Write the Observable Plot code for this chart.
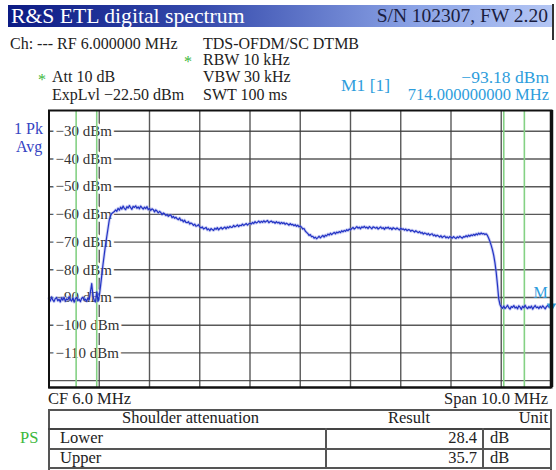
<!DOCTYPE html>
<html><head><meta charset="utf-8">
<script src="https://cdn.jsdelivr.net/npm/d3@7"></script>
<script src="https://cdn.jsdelivr.net/npm/@observablehq/plot@0.6"></script>
<style>
body{margin:0;background:#fff;}
#wrap{position:relative;width:556px;height:470px;overflow:hidden;font-family:"Liberation Serif",serif;}
.t{position:absolute;white-space:nowrap;font-size:16px;line-height:14px;color:#222;}
.b{color:#2e9ddc;font-size:17.5px;}
.g{color:#3cb83c;}
.ln{position:absolute;background:#555;}
#bar{position:absolute;left:8px;top:5px;width:545px;height:22px;background:linear-gradient(to right,#0c1b84 0%,#3449ab 35%,#8ba3e6 75%,#b4c6f4 100%);}
#edge{position:absolute;left:552px;top:4px;width:1.5px;height:36px;background:#333;}
#plot{position:absolute;left:0;top:100px;}
</style></head>
<body><div id="wrap">
<div id="bar"></div>
<div id="edge"></div>
<div id="plot"></div>
</div>
<script>
// ---- data ----
const titleText = "R&S ETL digital spectrum";
const serialText = "S/N 102307, FW 2.20";
const sweepStartMHz = 1;      // CF 6.0 MHz, span 10 MHz
const sweepStepMHz = 0.025;
const traceDbm = [
 -90.3,-91.3,-89.8,-90.9,-91.5,-90.4,-90.0,-91.2,-90.6,-91.6,-90.1,-91.0,-89.9,-91.4,-90.5,-90.9,-89.7,-90.8,-91.3,-90.2,-91.7,-90.4,-90.0,-91.1,-90.7,-91.5,-90.3,-89.9,-91.0,-90.6,-91.4,-90.1,-90.8,
 -88.0,-85.0,-89.5,-91.0,-91.6,-88.0,-91.3,-89.5,-86.0,-82.0,-78.0,-74.5,-71.0,-68.0,-65.0,-62.0,-60.5,-59.7,-59.3,-59.0,
 -58.4,-58.9,-57.8,-58.5,-57.4,-58.1,-57.0,-57.9,-58.3,-57.2,-57.7,-56.8,-57.6,-58.2,-57.1,-57.5,-56.9,-57.8,-57.3,-58.0,-57.0,-57.6,-58.1,-57.4,-57.9,-57.2,-58.3,-57.8,
 -58.6,-58.0,-58.3,-59.1,-58.4,-58.8,-59.5,-58.9,-59.3,-60.1,
 -59.5,-59.8,-60.4,-60.0,-60.7,-60.3,-60.2,-61.2,-60.7,-61.4,
 -61.0,-61.6,-61.9,-61.3,-62.2,-62.0,-62.7,-62.1,-62.9,-63.0,
 -62.6,-63.5,-63.1,-63.4,-64.0,-63.5,-64.3,-64.1,-63.7,-64.5,
 -64.9,-64.5,-65.3,-65.0,-64.7,-65.6,-65.2,-65.9,-65.1,-65.5,
 -65.8,-65.0,-65.4,-64.8,-65.6,-65.1,-64.7,-65.3,-64.9,-64.6,
 -65.2,-64.5,-64.9,-64.3,-64.7,-64.6,-64.0,-64.5,-64.2,-63.8,
 -64.4,-63.9,-64.1,-63.5,-64.0,-63.7,-63.3,-63.9,-63.4,-63.2,
 -63.5,-62.9,-63.3,-62.6,-63.1,-62.8,-62.4,-63.0,-62.5,-62.9,
 -62.3,-62.8,-62.5,-62.2,-63.0,-62.6,-62.4,-62.9,-62.7,-63.2,
 -62.6,-63.1,-62.8,-63.4,-62.9,-63.3,-63.0,-63.6,-63.2,-63.5,
 -63.9,-63.3,-63.8,-63.6,-64.1,-63.7,-64.3,-63.9,-64.5,-64.2,
 -64.6,-65.3,-65.1,-66.0,-66.5,-66.9,-67.6,-67.3,-68.1,-67.9,
 -68.6,-68.2,-68.8,-68.4,-67.9,-68.5,-68.0,-67.6,-68.2,-67.5,
 -67.8,-67.1,-67.5,-66.8,-67.3,-66.9,-66.5,-67.0,-66.4,-66.7,
 -66.2,-66.6,-65.9,-66.3,-65.8,-66.1,-65.5,-65.9,-65.3,-65.6,
 -65.1,-64.7,-65.3,-64.9,-64.4,-65.0,-64.6,-65.2,-64.5,-64.8,
 -64.3,-64.9,-64.6,-65.1,-64.4,-64.8,-65.2,-64.5,-64.7,-65.0,
 -64.6,-65.3,-64.9,-64.5,-65.1,-64.8,-65.4,-64.7,-65.0,-64.6,
 -65.2,-64.9,-65.5,-64.8,-65.1,-65.4,-64.9,-65.3,-65.6,-65.0,
 -65.4,-65.2,-65.7,-65.3,-65.9,-65.5,-65.6,-66.1,-65.7,-66.0,
 -66.4,-65.9,-66.3,-66.6,-66.2,-66.8,-66.5,-67.1,-66.7,-66.9,
 -67.3,-66.9,-67.5,-67.2,-67.0,-67.7,-67.4,-67.9,-67.5,-67.8,
 -68.2,-67.7,-68.4,-68.0,-67.8,-68.5,-68.1,-68.6,-68.0,-68.3,
 -68.6,-68.0,-68.4,-68.7,-68.1,-68.5,-67.9,-68.3,-68.6,-68.0,
 -68.2,-67.7,-68.1,-67.5,-67.9,-67.4,-67.7,-67.2,-67.6,-67.0,
 -67.4,-66.8,-67.2,-66.7,-67.1,-66.9,-67.3,-67.0,
 -67.6,-68.6,-69.8,-71.2,-72.8,-74.8,-77.5,-81.0,-85.5,-90.5,-92.6,-93.4,
 -93.9,-93.1,-94.0,-93.5,-92.8,-93.7,-94.2,-93.3,-93.6,-92.9,
 -93.8,-93.4,-94.1,-93.0,-93.5,-94.3,-93.2,-93.7,-92.8,-93.6,
 -94.0,-93.3,-93.8,-93.1,-94.2,-93.5,-92.9,-93.7,-93.4,-94.0,
 -93.2,-93.8,-93.0,-93.6,-94.1,-93.3,-92.9,-93.5,-93.0,-93.2
];
const xGridMHz = [1,2,3,4,5,6,7,8,9,10,11];
const yGridDbm = [-30,-40,-50,-60,-70,-80,-90,-100,-110,-120];
const yLabelDbm = [-30,-40,-50,-60,-70,-80,-90,-100,-110];
const shoulderLinesMHz = [1.54,1.95,10.05,10.46];
const markerMHz = [11];
const markerDbm = [-93.18];
const shoulderRows = ["Lower","Upper"];
const shoulderResults = ["28.4","35.7"];
const shoulderUnits = ["dB","dB"];

// ---- chart ----
const trace = traceDbm.map((v,i)=>({f: sweepStartMHz + i*sweepStepMHz, v}));
const marker = markerMHz.map((f,i)=>({f, v: markerDbm[i]}));
const font = "Liberation Serif";
const chart = Plot.plot({
  width: 556, height: 290,
  marginLeft: 48.5, marginRight: 5, marginTop: 10, marginBottom: 3,
  x: {domain: [1, 11], axis: null},
  y: {domain: [-122.5, -22.5], axis: null},
  style: {background: "transparent", fontFamily: font},
  marks: [
    Plot.ruleX(xGridMHz, {stroke: "#3c3c3c", strokeWidth: 1.4, strokeOpacity: 0.85}),
    Plot.ruleY(yGridDbm, {stroke: "#3c3c3c", strokeWidth: 1.4, strokeOpacity: 0.85}),
    Plot.text(yLabelDbm, {x: 1, y: d => d, text: d => "\u2212" + (-d) + " dBm", textAnchor: "start", dx: 6.5,
      fontSize: 15, fontFamily: font, fill: "#333", stroke: "white", strokeWidth: 6, paintOrder: "stroke"}),
    Plot.ruleX(shoulderLinesMHz, {stroke: "#84d184", strokeWidth: 1.6}),
    Plot.line(trace, {x: "f", y: "v", stroke: "#8f97e6", strokeWidth: 3, strokeOpacity: 0.45}),
    Plot.line(trace, {x: "f", y: "v", stroke: "#2333c4", strokeWidth: 1.2}),
    Plot.dot(marker, {x: "f", y: "v", symbol: "triangle", r: 3.5, fill: "#2e9ddc", rotate: 180}),
    Plot.text(marker, {x: "f", y: "v", text: () => "M", dx: -11, dy: -13, fontSize: 16, fontFamily: font, fill: "#2e9ddc"}),
    Plot.frame({stroke: "#111", strokeWidth: 2}),
    Plot.ruleX([11], {stroke: "#111", strokeWidth: 3.5}),
    Plot.ruleY([-122.5], {stroke: "#111", strokeWidth: 2})
  ]
});
document.getElementById("plot").appendChild(chart);

// ---- text overlay ----
const wrap = document.getElementById("wrap");
function addText(txt, opts) {
  const d = document.createElement("div");
  d.className = "t" + (opts.cls ? " " + opts.cls : "");
  d.textContent = txt;
  if (opts.left != null) d.style.left = opts.left + "px";
  if (opts.right != null) d.style.right = opts.right + "px";
  d.style.top = opts.top + "px";
  if (opts.size) d.style.fontSize = opts.size + "px";
  if (opts.lh) d.style.lineHeight = opts.lh + "px";
  if (opts.color) d.style.color = opts.color;
  wrap.appendChild(d);
  return d;
}
function addLine(l, t, w, h, c) {
  const d = document.createElement("div");
  d.className = "ln";
  Object.assign(d.style, {left: l + "px", top: t + "px", width: w + "px", height: h + "px"});
  if (c) d.style.background = c;
  wrap.appendChild(d);
}
addText(titleText, {left: 11, top: 5.5, size: 21.7, lh: 20, color: "#fff"});
addText(serialText, {right: 8, top: 6.2, size: 19.5, lh: 20, color: "#1a1d40"});
addText("Ch: --- RF 6.000000 MHz", {left: 10, top: 37.4});
addText("TDS-OFDM/SC DTMB", {left: 203, top: 37.4});
addText("*", {left: 184, top: 54.5, cls: "g"});
addText("RBW 10 kHz", {left: 203, top: 53.4});
addText("*", {left: 38, top: 72.5, cls: "g"});
addText("Att 10 dB", {left: 52, top: 70.4});
addText("VBW 30 kHz", {left: 203, top: 70.4});
addText("ExpLvl \u221222.50 dBm", {left: 52, top: 88.4});
addText("SWT 100 ms", {left: 203, top: 88.4});
addText("M1 [1]", {left: 341, top: 77.8, cls: "b"});
addText("\u221293.18 dBm", {right: 7, top: 69.8, cls: "b"});
addText("714.000000000 MHz", {right: 7, top: 88.1, cls: "b", size: 16.5});
addText("1 Pk", {left: 14, top: 122.1, size: 16, color: "#3443c2"});
addText("Avg", {left: 16, top: 140.1, size: 16, color: "#3443c2"});
addText("CF 6.0 MHz", {left: 48, top: 392.2, size: 16.5});
addText("Span 10.0 MHz", {right: 8, top: 392.2, size: 16.5});
// table
addLine(48, 409, 503, 1.5);
addLine(48, 409, 1.5, 61);
addLine(550, 409, 1.5, 61);
addLine(48, 428, 503, 2, "#444");
addLine(48, 448, 503, 1.5);
addLine(48, 467, 503, 1.5);
addLine(325, 428, 1.5, 40);
addLine(482, 428, 1.5, 40);
addText("Shoulder attenuation", {left: 122, top: 411.2, size: 16.5});
addText("Result", {left: 388, top: 411.2, size: 16.5});
addText("Unit", {right: 8, top: 411.2, size: 16.5});
addText("PS", {left: 20, top: 431.2, cls: "g", size: 16.5});
shoulderRows.forEach((r, i) => {
  const top = 431.2 + i * 20;
  addText(r, {left: 60, top, size: 16.5});
  addText(shoulderResults[i], {right: 556 - 477, top, size: 16.5});
  addText(shoulderUnits[i], {left: 490, top, size: 16.5});
});
</script>
</body></html>
